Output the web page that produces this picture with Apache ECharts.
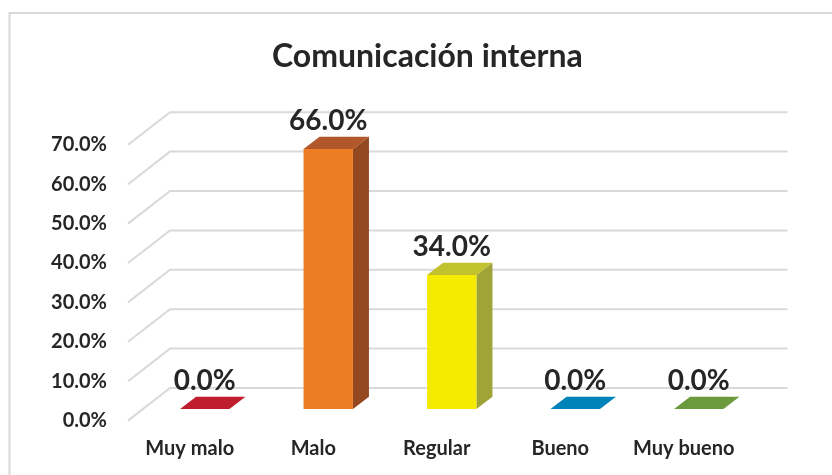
<!DOCTYPE html>
<html>
<head>
<meta charset="utf-8">
<script src="https://cdn.jsdelivr.net/npm/echarts@6/dist/echarts.min.js"></script>
<style>
  html, body { margin: 0; padding: 0; background: #fff; }
  #chart { width: 832px; height: 475px; }
</style>
</head>
<body>
<div id="chart"></div>
<script>
  // datos
  var categories = ['Muy malo', 'Malo', 'Regular', 'Bueno', 'Muy bueno']
  var values = [0, 66, 34, 0, 0]
  var yTicks = [0, 10, 20, 30, 40, 50, 60, 70]

  // colores 3D (frente, tapa, lado)
  var frontColors = ['#C8202B', '#ED7D23', '#F5EA00', '#0088BE', '#6FA03E']
  var topColors = ['#BE1E2D', '#B1572A', '#C2C12E', '#0083B8', '#6A9A3C']
  var sideColors = ['#8E1A20', '#93481F', '#A0A338', '#006890', '#547C30']

  // profundidad (px) del fondo y de las barras respecto del plano frontal
  var WALL = [42, -32.6]
  var BAR_FRONT = [15, -11.6]
  var BAR_BACK = [31, -23.9]
  var FONT = 'Lato'

  var chart = echarts.init(document.getElementById('chart'))

  function renderGrid (params, api) {
    var cs = params.coordSys
    var y = api.coord([0, api.value(1)])[1]
    return {
      type: 'polyline',
      shape: {
        points: [[cs.x, y], [cs.x + WALL[0], y + WALL[1]], [cs.x + cs.width + WALL[0], y + WALL[1]]]
      },
      style: { stroke: '#D9D9D9', lineWidth: 2, fill: null },
      silent: true
    }
  }

  function renderBar (params, api) {
    var i = api.value(0)
    var v = api.value(1)
    var base = api.coord([i, 0])
    var top = api.coord([i, v])
    var band = api.size([1, 0])[0]
    var w = band * 0.4
    var x0 = base[0] + BAR_FRONT[0] - w / 2
    var x1 = x0 + w
    var yb = base[1] + BAR_FRONT[1]
    var yt = top[1] + BAR_FRONT[1]
    var dx = BAR_BACK[0] - BAR_FRONT[0]
    var dy = BAR_BACK[1] - BAR_FRONT[1]
    var children = []
    if (v > 0) {
      children.push({
        type: 'polygon',
        shape: { points: [[x1, yt], [x1, yb], [x1 + dx, yb + dy], [x1 + dx, yt + dy]] },
        style: { fill: sideColors[i] }
      })
      children.push({
        type: 'rect',
        shape: { x: x0, y: yt, width: w, height: yb - yt },
        style: { fill: frontColors[i] }
      })
    }
    children.push({
      type: 'polygon',
      shape: { points: [[x0, yt], [x1, yt], [x1 + dx, yt + dy], [x0 + dx, yt + dy]] },
      style: { fill: topColors[i] }
    })
    children.push({
      type: 'text',
      x: x0 + w / 2,
      y: yt + dy - 16,
      style: {
        text: v.toFixed(1) + '%',
        fill: '#262626',
        font: 'bold 28px ' + FONT,
        align: 'center',
        verticalAlign: 'middle'
      }
    })
    return { type: 'group', children: children }
  }

  var option = {
    backgroundColor: '#fff',
    animation: false,
    title: {
      text: 'Comunicación interna',
      left: 267,
      top: 36,
      textStyle: { fontFamily: FONT, fontSize: 32, fontWeight: 'bold', color: '#262626' }
    },
    graphic: [{
      type: 'polyline',
      shape: { points: [[9.5, 475], [9.5, 13], [832, 13]] },
      style: { stroke: '#D9D9D9', lineWidth: 2, fill: null },
      silent: true
    }],
    grid: { left: 128, right: 86.5, top: 144.8, bottom: 54.4 },
    xAxis: {
      type: 'category',
      data: categories,
      axisLine: { show: false },
      axisTick: { show: false },
      axisLabel: { interval: 0, margin: 18, color: '#262626', fontFamily: FONT, fontSize: 20, fontWeight: 'bold' }
    },
    yAxis: {
      type: 'value',
      min: 0,
      max: 70,
      interval: 10,
      splitLine: { show: false },
      axisLine: { show: false },
      axisTick: { show: false },
      axisLabel: {
        margin: 21,
        color: '#262626',
        fontFamily: FONT,
        fontSize: 20,
        fontWeight: 'bold',
        formatter: function (val) { return val.toFixed(1) + '%' }
      }
    },
    series: [{
      type: 'custom',
      z: 1,
      renderItem: renderGrid,
      data: yTicks.map(function (t) { return [0, t] }),
      silent: true
    }, {
      type: 'custom',
      z: 2,
      renderItem: renderBar,
      data: values.map(function (v, i) { return [i, v] })
    }]
  }

  chart.setOption(option)
  window.addEventListener('resize', function () {
    chart.resize()
  })
</script>
</body>
</html>
